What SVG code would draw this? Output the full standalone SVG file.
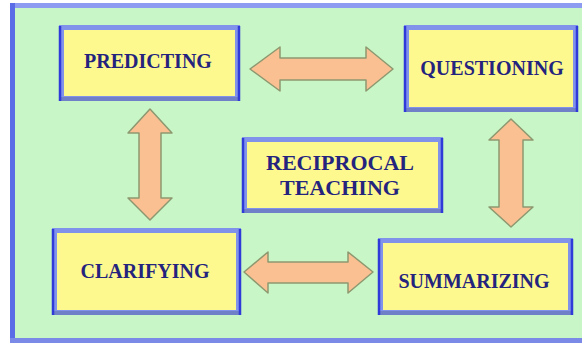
<svg xmlns="http://www.w3.org/2000/svg" width="582" height="345" viewBox="0 0 582 345">
<defs>
<style>
.box{fill:#fdf98e;stroke:#8192ea;stroke-width:5}
.edge{stroke:#2f3ad8;stroke-width:2.5;fill:none}
.bot{stroke:#6f7fc8;stroke-width:4;fill:none}
.lbl{font-family:"Liberation Serif","Times New Roman",serif;font-weight:bold;font-size:20px;fill:#24247e;text-anchor:middle}
.big{font-size:22px}
.arr{fill:#fbc092;stroke:#8e9870;stroke-width:1.5;stroke-linejoin:round}
</style>
</defs>
<rect x="0" y="0" width="582" height="345" fill="#ffffff"/>
<rect x="12" y="5" width="572" height="336" fill="#c8f6c6"/>
<rect x="10" y="3" width="574" height="5" fill="#8d9cf0"/>
<rect x="10" y="3" width="5" height="340" fill="#5b6de6"/>
<rect x="10" y="338" width="574" height="5" fill="#7a8ae6"/>

<g id="connectors">
<polygon class="arr" points="250,69 280,47 280,58 366,58 366,47 393,69 366,91 366,80 280,80 280,91"/>
<polygon class="arr" points="150,109 172,133 161,133 161,198 172,198 150,220 128,198 139,198 139,133 128,133"/>
<polygon class="arr" points="511,119 533,140 523,140 523,207 533,207 511,227 489,207 499,207 499,140 489,140"/>
<polygon class="arr" points="244,272 268,252 268,262 348,262 348,252 373,272 348,293 348,283 268,283 268,293"/>
</g>

<g id="predicting">
<rect class="box" x="61.5" y="27.5" width="176" height="71"/>
<line class="bot" x1="60" y1="99" x2="239" y2="99"/>
<line class="edge" x1="60" y1="26" x2="60" y2="101"/>
<line class="edge" x1="239" y1="26" x2="239" y2="101"/>
<text class="lbl" x="148" y="68">PREDICTING</text>
</g>

<g id="questioning">
<rect class="box" x="406.5" y="27.5" width="169" height="82"/>
<line class="bot" x1="405" y1="110" x2="577" y2="110"/>
<line class="edge" x1="405" y1="26" x2="405" y2="112"/>
<line class="edge" x1="577" y1="26" x2="577" y2="112"/>
<text class="lbl" x="492" y="75">QUESTIONING</text>
</g>

<g id="reciprocal">
<rect class="box" x="244.5" y="139.5" width="196" height="71"/>
<line class="bot" x1="243" y1="211" x2="442" y2="211"/>
<line class="edge" x1="243" y1="138" x2="243" y2="213"/>
<line class="edge" x1="442" y1="138" x2="442" y2="213"/>
<text class="lbl big" x="340" y="170">RECIPROCAL</text>
<text class="lbl big" x="340" y="195">TEACHING</text>
</g>

<g id="clarifying">
<rect class="box" x="54.5" y="230.5" width="184" height="82"/>
<line class="bot" x1="53" y1="313" x2="240" y2="313"/>
<line class="edge" x1="53" y1="229" x2="53" y2="315"/>
<line class="edge" x1="240" y1="229" x2="240" y2="315"/>
<text class="lbl" x="145" y="278">CLARIFYING</text>
</g>

<g id="summarizing">
<rect class="box" x="380.5" y="240.5" width="190" height="72"/>
<line class="bot" x1="379" y1="313" x2="572" y2="313"/>
<line class="edge" x1="379" y1="239" x2="379" y2="315"/>
<line class="edge" x1="572" y1="239" x2="572" y2="315"/>
<text class="lbl" x="474" y="288">SUMMARIZING</text>
</g>
</svg>
